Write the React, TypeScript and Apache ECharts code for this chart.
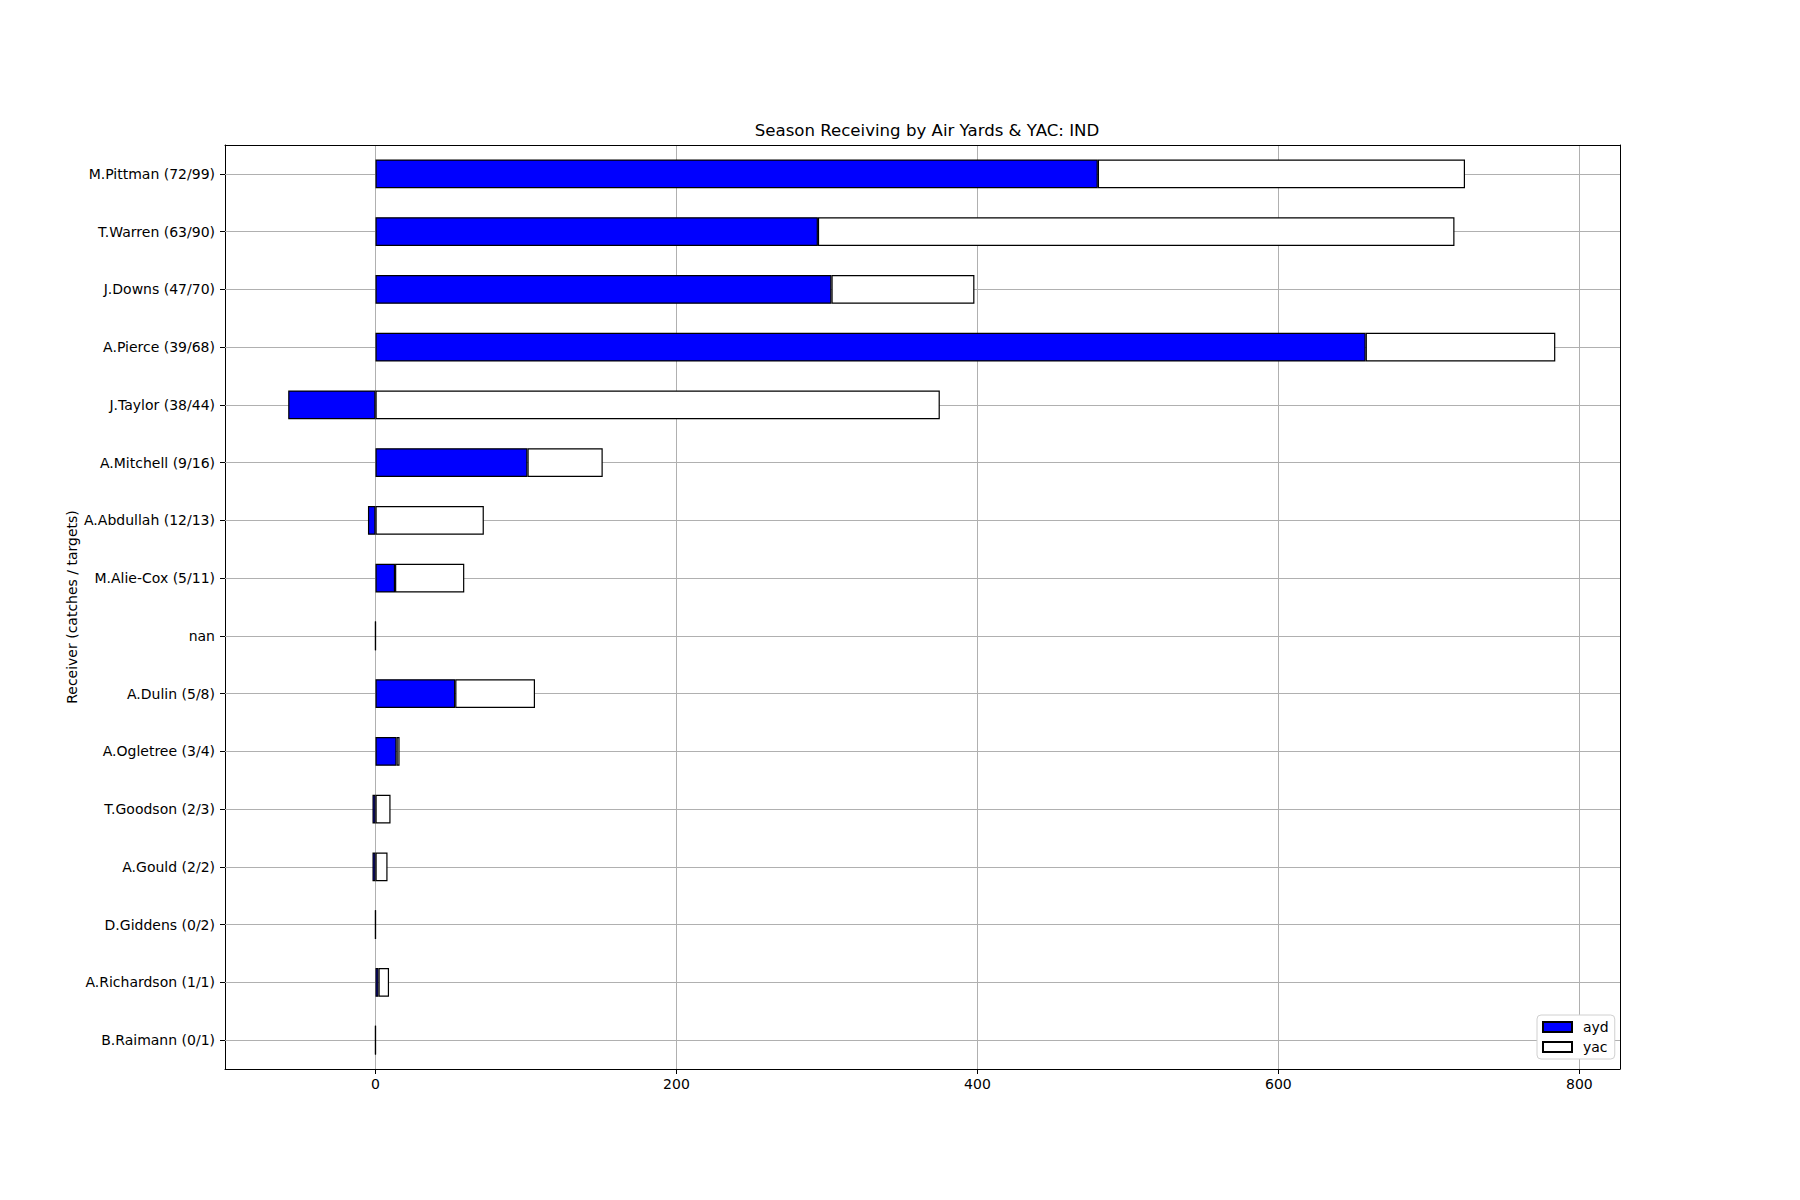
import React, { useEffect, useRef } from "react";
import * as echarts from "echarts";

const categories = [
  "M.Pittman (72/99)",
  "T.Warren (63/90)",
  "J.Downs (47/70)",
  "A.Pierce (39/68)",
  "J.Taylor (38/44)",
  "A.Mitchell (9/16)",
  "A.Abdullah (12/13)",
  "M.Alie-Cox (5/11)",
  "nan",
  "A.Dulin (5/8)",
  "A.Ogletree (3/4)",
  "T.Goodson (2/3)",
  "A.Gould (2/2)",
  "D.Giddens (0/2)",
  "A.Richardson (1/1)",
  "B.Raimann (0/1)",
];
const ayd = [480, 294, 303, 658, -58, 101, -5, 13, 0, 53, 14, -2, -2, 0, 2, 0];
const yac = [244, 423, 95, 126, 375, 50, 72, 46, 0, 53, 2, 10, 8, 0, 7, 0];
const xMin = -100;
const xMax = 827;

const FONT = "DejaVu Sans";

export default function App() {
  const ref = useRef<HTMLDivElement>(null);
  useEffect(() => {
    document.body.style.margin = "0";
    const chart = echarts.init(ref.current!, null, { renderer: "svg" });
    const gridColor = "#b0b0b0";
    chart.setOption({
      animation: false,
      backgroundColor: "#ffffff",
      textStyle: { fontFamily: FONT },
      title: {
        text: "Season Receiving by Air Yards & YAC: IND",
        left: 922,
        textAlign: "center",
        top: 117,
        textStyle: { fontFamily: FONT, fontSize: 16.6, fontWeight: "normal", color: "#000" },
      },
      grid: { left: 225, top: 145, width: 1395, height: 924, containLabel: false },
      legend: {
        data: ["ayd", "yac"],
        orient: "vertical",
        left: 1537,
        top: 1015,
        padding: [5, 6, 5, 5],
        itemGap: 6,
        itemWidth: 29,
        itemHeight: 10,
        icon: "rect",
        backgroundColor: "#fff",
        borderColor: "#d0d0d0",
        borderWidth: 1,
        borderRadius: 4,
        textStyle: { fontFamily: FONT, fontSize: 14, color: "#000", padding: [0, 0, 0, 6] },
      },
      xAxis: [
        {
          type: "value",
          min: xMin,
          max: xMax,
          position: "bottom",
          axisLine: { show: true, onZero: false, lineStyle: { color: "#000", width: 1 } },
          axisTick: { show: true, length: 5, lineStyle: { color: "#000" } },
          axisLabel: {
            color: "#000",
            fontSize: 14,
            fontFamily: FONT,
            margin: 8,
            showMinLabel: false,
            showMaxLabel: false,
          },
          splitLine: { show: true, lineStyle: { color: gridColor, width: 1 } },
        },
        {
          type: "value",
          min: xMin,
          max: xMax,
          position: "top",
          axisLine: { show: true, onZero: false, lineStyle: { color: "#000", width: 1 } },
          axisTick: { show: false },
          axisLabel: { show: false },
          splitLine: { show: false },
        },
      ],
      yAxis: [
        {
          type: "category",
          data: categories,
          inverse: true,
          position: "left",
          name: "Receiver (catches / targets)",
          nameLocation: "middle",
          nameRotate: 90,
          nameGap: 146,
          nameMoveOverlap: false,
          nameTextStyle: { fontFamily: FONT, fontSize: 14, color: "#000" },
          axisLine: { show: true, onZero: false, lineStyle: { color: "#000", width: 1 } },
          axisTick: { show: true, alignWithLabel: true, length: 5, lineStyle: { color: "#000" } },
          axisLabel: { color: "#000", fontSize: 14, fontFamily: FONT, margin: 10 },
          splitLine: { show: false },
        },
        {
          type: "category",
          data: categories,
          inverse: true,
          position: "right",
          axisLine: { show: true, onZero: false, lineStyle: { color: "#000", width: 1 } },
          axisTick: { show: false },
          axisLabel: { show: false },
          splitLine: { show: false },
        },
      ],
      series: [
        {
          type: "scatter",
          data: [],
          z: 1,
          silent: true,
          markLine: {
            silent: true,
            z: 1,
            symbol: "none",
            label: { show: false },
            lineStyle: { color: gridColor, type: "solid", width: 1 },
            data: categories.map((_, i) => ({ yAxis: i })),
          },
        },
        {
          name: "ayd",
          type: "bar",
          stack: "total",
          barWidth: "50%",
          z: 3,
          itemStyle: { color: "#0000ff", borderColor: "#000", borderWidth: 1.2 },
          data: ayd,
        },
        {
          name: "yac",
          type: "bar",
          stack: "total",
          barWidth: "50%",
          z: 3,
          itemStyle: { color: "#ffffff", borderColor: "#000", borderWidth: 1.2 },
          data: yac,
        },
      ],
    });
    return () => chart.dispose();
  }, []);
  return <div ref={ref} style={{ width: 1800, height: 1200 }} />;
}
